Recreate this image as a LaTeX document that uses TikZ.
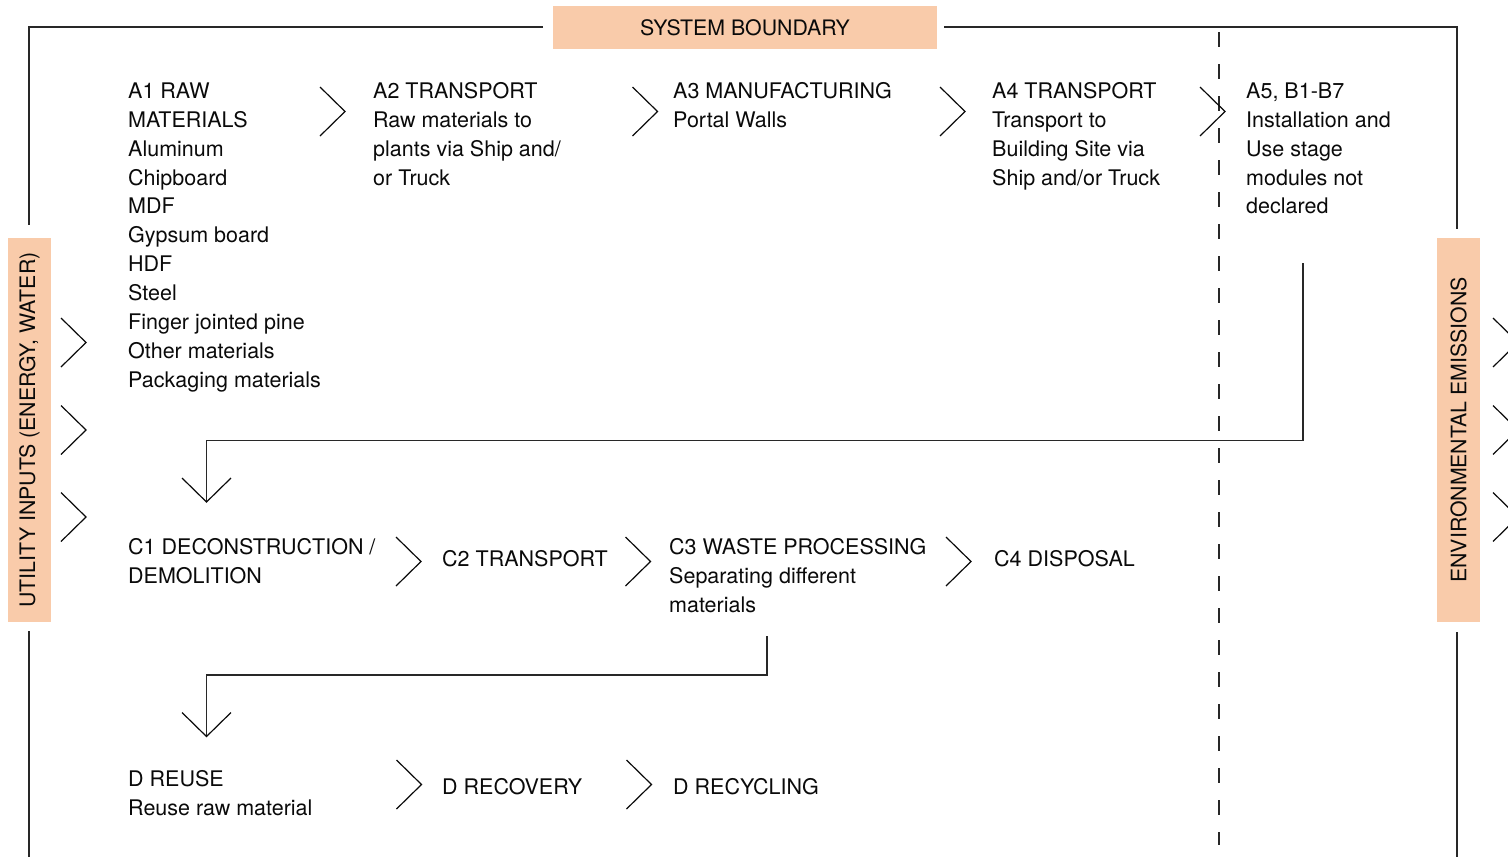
\documentclass[tikz,border=0pt]{standalone}
\usepackage{fontspec}
\setmainfont{TeX Gyre Heros}
\definecolor{peach}{RGB}{249,203,170}
\definecolor{ink}{RGB}{10,10,10}
\definecolor{rulec}{RGB}{40,40,40}
\begin{document}
\begin{tikzpicture}[x=1pt,y=-1pt,
  txt/.style={anchor=north west, inner sep=0pt, align=left, font=\fontsize{21.5}{28.9}\selectfont, text=ink},
  bnd/.style={draw=rulec, line width=1.4pt},
  chevline/.style={draw=ink, line width=1.2pt},
  chevron/.pic={\draw[chevline] (-12.5,-24.5) -- (12.5,0) -- (-12.5,24.5);},
  downvee/.pic={\draw[chevline] (-24.5,-24) -- (0,0) -- (24.5,-24);},
  flow/.style={draw=rulec, line width=1.4pt},
  band/.style={fill=peach, inner sep=0pt, font=\fontsize{21.3}{24}\selectfont, text=ink, minimum width=384pt, minimum height=43pt},
  divider/.style={draw=rulec, line width=1.3pt, dash pattern=on 15pt off 17pt},
]
\useasboundingbox (0,0) rectangle (1508,857);

% boundary
\node[band] (sb) at (745,27.5) {SYSTEM BOUNDARY};
\node[band, rotate=90] (ui) at (29.5,430) {UTILITY INPUTS (ENERGY, WATER)};
\node[band, rotate=90] (ee) at (1458.5,430) {ENVIRONMENTAL EMISSIONS};
\draw[bnd] (543,27) -| (29,225);
\draw[bnd] (944,27) -| (1457,229);
\draw[bnd] (29,631) -- (29,857);
\draw[bnd] (1457,632) -- (1457,857);
\draw[divider] (1219,32) -- (1219,845);

% row A
\node[txt] (a1) at (128,82.5) {A1 RAW\\MATERIALS\\Aluminum\\Chipboard\\MDF\\Gypsum board\\HDF\\Steel\\Finger jointed pine\\Other materials\\Packaging materials};
\node[txt] (a2) at (373,82.5) {A2 TRANSPORT\\Raw materials to\\plants via Ship and/\\or Truck};
\node[txt] (a3) at (673,82.5) {A3 MANUFACTURING\\Portal Walls};
\node[txt] (a4) at (992,82.5) {A4 TRANSPORT\\Transport to\\Building Site via\\Ship and/or Truck};
\node[txt] (a5) at (1246,82.5) {A5, B1-B7\\Installation and\\Use stage\\modules not\\declared};
\pic at (332.5,111.5) {chevron};
\pic at (645,111.5) {chevron};
\pic at (952.5,111.5) {chevron};
\pic at (1212.5,111.5) {chevron};

% side chevrons
\foreach \yy in {342.5,430,517}{
  \pic at (73.5,\yy) {chevron};
  \pic at (1505.5,\yy) {chevron};
}

% row C
\node[txt] (c1) at (128,538) {C1 DECONSTRUCTION /\\DEMOLITION};
\node[txt] (c2) at (442,550) {C2 TRANSPORT};
\node[txt] (c3) at (669,538) {C3 WASTE PROCESSING\\Separating different\\materials};
\node[txt] (c4) at (994,550) {C4 DISPOSAL};
\pic at (408.5,561.5) {chevron};
\pic at (638,561.5) {chevron};
\pic at (958.5,561.5) {chevron};

% row D
\node[txt] (d1) at (128,770) {D REUSE\\Reuse raw material};
\node[txt] (d2) at (442,778) {D RECOVERY};
\node[txt] (d3) at (673,778) {D RECYCLING};
\pic at (409,784.5) {chevron};
\pic at (639,784.5) {chevron};

% loops
\coordinate (l1s) at (1303,263);
\coordinate (l1m) at (1303,440.5);
\coordinate (l1e) at (206.5,502);
\draw[flow] (l1s) -- (l1m) -| (l1e);
\pic at (l1e) {downvee};
\coordinate (l2s) at (767,636);
\coordinate (l2m) at (767,675);
\coordinate (l2e) at (206.5,736.5);
\draw[flow] (l2s) -- (l2m) -| (l2e);
\pic at (l2e) {downvee};
\end{tikzpicture}
\end{document}
